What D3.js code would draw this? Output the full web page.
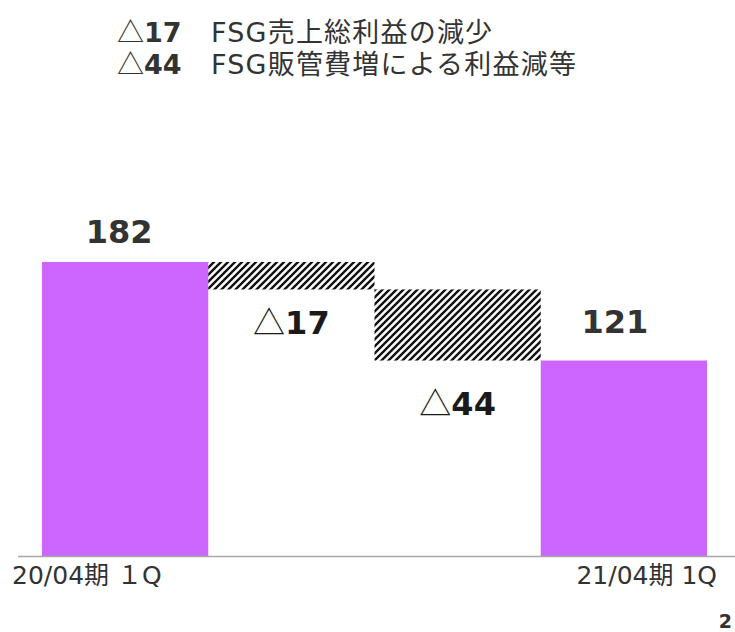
<!DOCTYPE html>
<html>
<head>
<meta charset="utf-8">
<script src="https://cdn.jsdelivr.net/npm/d3@7"></script>
<style>
  html, body { margin: 0; padding: 0; background: #fff; }
  svg { display: block; }
  text { font-family: "DejaVu Sans", "Noto Sans CJK JP", sans-serif; }
</style>
</head>
<body>
<svg id="chart" width="735" height="632"></svg>
<script>
// ---- data ----
const categories = ["20/04期 １Q", "FSG売上総利益", "FSG販管費", "21/04期 1Q"];
const startValue = 182;
const deltas = [-17, -44];
const endValue = 121;
const deltaLabels = ["17", "44"];
const notePrefix = ["17", "44"];
const noteText = ["FSG売上総利益の減少", "FSG販管費増による利益減等"];
const pageNumber = "2";

// ---- layout ----
const svg = d3.select("#chart");
const baseY = 556;
const y = d3.scaleLinear().domain([0, 200]).range([baseY, baseY - 323.1]);
const x = d3.scaleBand().domain(categories).range([42, 707]).paddingInner(0).paddingOuter(0);

const purple = "#CC66FF";
const textCol = "#333333";

// hatch pattern
const defs = svg.append("defs");
const pat = defs.append("pattern")
  .attr("id", "hatch").attr("patternUnits", "userSpaceOnUse")
  .attr("width", 7).attr("height", 7);
pat.append("path")
  .attr("d", "M-1,1 l2,-2 M0,7 l7,-7 M6,8 l2,-2")
  .attr("stroke", "#111").attr("stroke-width", 2.4).attr("stroke-linecap", "square");

// waterfall segments
const segs = [];
let run = startValue;
segs.push({cat: categories[0], y0: 0, y1: startValue, type: "total"});
deltas.forEach((d, i) => {
  const next = run + d;
  segs.push({cat: categories[i + 1], y0: Math.min(run, next), y1: Math.max(run, next), type: "delta"});
  run = next;
});
segs.push({cat: categories[3], y0: 0, y1: endValue, type: "total"});

svg.append("g").selectAll("rect").data(segs).join("rect")
  .attr("x", d => x(d.cat))
  .attr("width", x.bandwidth())
  .attr("y", d => y(d.y1))
  .attr("height", d => y(d.y0) - y(d.y1))
  .attr("fill", d => d.type === "total" ? purple : "url(#hatch)");

// axis baseline
svg.append("line")
  .attr("x1", 18).attr("x2", 735).attr("y1", baseY + 0.5).attr("y2", baseY + 0.5)
  .attr("stroke", "#A6A6A6").attr("stroke-width", 1.5);

// total labels
svg.append("text").attr("x", x(categories[0]) + x.bandwidth() / 2 - 6).attr("y", y(startValue) - 19)
  .attr("text-anchor", "middle").attr("font-size", 32).attr("font-weight", "bold").attr("fill", textCol)
  .text(startValue);
svg.append("text").attr("x", x(categories[3]) + x.bandwidth() / 2 - 9).attr("y", y(endValue) - 28)
  .attr("text-anchor", "middle").attr("font-size", 32).attr("font-weight", "bold").attr("fill", textCol)
  .text(endValue);

// delta labels
const deltaOffsets = [45, 54];
segs.filter(s => s.type === "delta").forEach((s, i) => {
  const t = svg.append("text")
    .attr("x", x(s.cat) + x.bandwidth() / 2)
    .attr("y", y(s.y0) + deltaOffsets[i])
    .attr("text-anchor", "middle").attr("font-size", 32).attr("fill", "#1a1a1a");
  t.append("tspan").attr("font-family", "Noto Sans CJK JP").attr("font-weight", "normal").text("△");
  t.append("tspan").attr("font-weight", "bold").text(deltaLabels[i]);
});

// category labels
svg.append("text").attr("x", 12).attr("y", 584).attr("font-size", 25).attr("fill", textCol)
  .text(categories[0]);
svg.append("text").attr("x", 717).attr("y", 584).attr("text-anchor", "end").attr("font-size", 25).attr("fill", textCol)
  .text(categories[3]);

// notes at top
noteText.forEach((n, i) => {
  const t = svg.append("text").attr("x", 117).attr("y", 42 + i * 31.5).attr("font-size", 27).attr("fill", textCol);
  t.append("tspan").attr("font-family", "Noto Sans CJK JP").text("△");
  t.append("tspan").attr("font-weight", "bold").text(notePrefix[i]);
  t.append("tspan").attr("x", 211).attr("letter-spacing", 1.2).text(n);
});

// page number
svg.append("text").attr("x", 732).attr("y", 628).attr("text-anchor", "end")
  .attr("font-size", 19).attr("font-weight", "bold").attr("fill", textCol).text(pageNumber);
</script>
</body>
</html>
